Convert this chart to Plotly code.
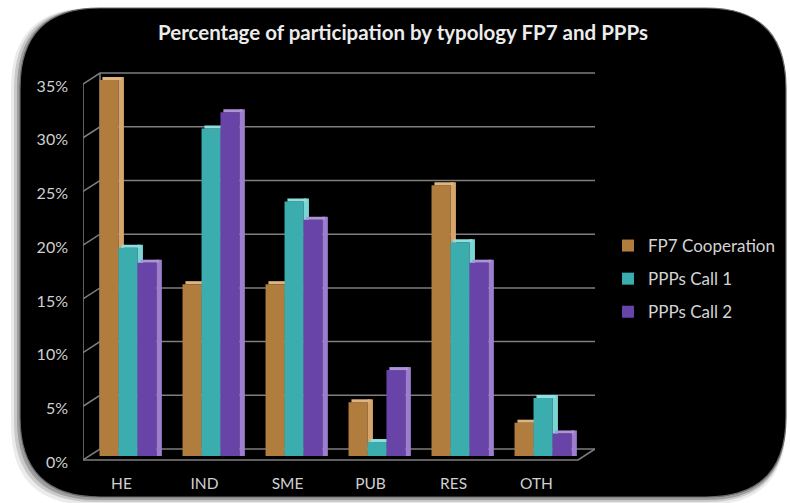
import plotly.graph_objects as go

W, H = 790, 503

categories = ["HE", "IND", "SME", "PUB", "RES", "OTH"]
series_names = ["FP7 Cooperation", "PPPs Call 1", "PPPs Call 2"]
fp7_cooperation = [35.0, 16.0, 16.0, 5.0, 25.2, 3.1]
ppps_call_1 = [19.4, 30.5, 23.7, 1.3, 19.9, 5.4]
ppps_call_2 = [18.0, 32.0, 22.0, 8.0, 18.0, 2.1]
y_ticks = [0, 5, 10, 15, 20, 25, 30, 35]
y_tick_labels = ["0%", "5%", "10%", "15%", "20%", "25%", "30%", "35%"]

front_colors = ["#B07D3F", "#3BADAE", "#6944A8"]
side_colors = ["#D6A56B", "#7AD6D6", "#9C7DCF"]
top_colors = ["#E0B47E", "#8EE0E0", "#AE92DA"]

FONT = "Lato"

def px_x(p):
    return p / W

def px_y(p):
    return 1 - p / H

def rounded_path(x0, y0, x1, y1, r):
    pts = [
        ("M", (x0 + r, y0)), ("L", (x1 - r, y0)),
        ("Q", (x1, y0), (x1, y0 + r)), ("L", (x1, y1 - r)),
        ("Q", (x1, y1), (x1 - r, y1)), ("L", (x0 + r, y1)),
        ("Q", (x0, y1), (x0, y1 - r)), ("L", (x0, y0 + r)),
        ("Q", (x0, y0), (x0 + r, y0)),
    ]
    s = ""
    for item in pts:
        cmd = item[0]
        coords = " ".join(f"{px_x(a):.5f},{px_y(b):.5f}" for a, b in item[1:])
        s += f"{cmd} {coords} "
    return s + "Z"

fig = go.Figure()

# ---- 3D-style walls: back gridlines, left wall diagonals and floor, built from the tick values
depth_dx = 17 / 512      # wall depth, as a fraction of the wall axis width
depth_dy = 1.02          # wall depth, in y units
ymax = y_ticks[-1]
wx, wy = [], []
for v in y_ticks:
    wx += [0, depth_dx, 1, None]
    wy += [v - depth_dy, v, v, None]
wx += [0, 0, None, depth_dx, depth_dx, None, 0, 1 - depth_dx, 1, None]
wy += [-depth_dy, ymax - depth_dy, None, 0, ymax, None, -depth_dy, -depth_dy, 0, None]
fig.add_trace(go.Scatter(x=wx, y=wy, mode="lines", line=dict(color="#7e7e7e", width=1.5),
                         hoverinfo="skip", showlegend=False, xaxis="x", yaxis="y"))

# ---- bars (front face, side face, top face)
front_w = 0.229
offsets = [-0.337, -0.108, 0.120]
side_w = 0.065
top_h = 0.28
data = [fp7_cooperation, ppps_call_1, ppps_call_2]

for i, (name, vals) in enumerate(zip(series_names, data)):
    fig.add_trace(go.Bar(x=categories, y=vals, name=name, marker_color=front_colors[i],
                         marker_line_width=0, offset=offsets[i], width=front_w,
                         legendgroup=name, xaxis="x2", yaxis="y2"))
    fig.add_trace(go.Bar(x=categories, y=[v + top_h for v in vals], marker_color=side_colors[i],
                         marker_line_width=0, offset=offsets[i] + front_w, width=side_w,
                         showlegend=False, hoverinfo="skip", xaxis="x2", yaxis="y2"))
    fig.add_trace(go.Bar(x=categories, y=[top_h] * len(vals), base=vals, marker_color=top_colors[i],
                         marker_line_width=0, offset=offsets[i] + 0.035, width=front_w,
                         showlegend=False, hoverinfo="skip", xaxis="x2", yaxis="y2"))

# ---- rounded black panel with soft shadow
shapes = []
for dx, dy, op in [(-9, 8, 0.08), (-6, 5, 0.14), (-3, 3, 0.22)]:
    shapes.append(dict(type="path", xref="paper", yref="paper", layer="below",
                       path=rounded_path(20 + dx, 8, 786, 497 + dy, 80),
                       fillcolor=f"rgba(0,0,0,{op})", line=dict(width=0)))
shapes.append(dict(type="path", xref="paper", yref="paper", layer="below",
                   path=rounded_path(20, 8, 786, 497, 80),
                   fillcolor="#000000", line=dict(color="#6a6a6a", width=1.2)))

PXU = 10.74  # pixels per percentage point

fig.update_layout(
    width=W, height=H, autosize=False,
    margin=dict(l=0, r=0, t=0, b=0, pad=0, autoexpand=False),
    paper_bgcolor="white", plot_bgcolor="rgba(0,0,0,0)",
    barmode="overlay",
    font=dict(family=FONT, color="#d0d0d0", size=15),
    title=dict(text="<b>Percentage of participation by typology FP7 and PPPs</b>",
               x=px_x(403), xanchor="center", y=px_y(33), yanchor="middle",
               font=dict(family=FONT, size=20.5, color="#ececec")),
    xaxis=dict(domain=[px_x(83), px_x(595)], range=[0, 1], visible=False, fixedrange=True),
    yaxis=dict(domain=[px_y(449 + 1.3 * PXU), px_y(449 - 35.2 * PXU)], range=[-1.3, 35.2],
               visible=False, fixedrange=True),
    xaxis2=dict(domain=[px_x(86), px_x(584)], anchor="y2", type="category",
                categoryorder="array", categoryarray=categories, range=[-0.5, 5.5],
                showgrid=False, showline=False, zeroline=False,
                ticks="", ticklabelshift=-6, ticklabelstandoff=16,
                tickfont=dict(family=FONT, size=15.5, color="#d0d0d0")),
    yaxis2=dict(domain=[px_y(456), px_y(456 - 35.4 * PXU)], anchor="x2", range=[0, 35.4],
                tickvals=y_ticks, ticktext=y_tick_labels, showgrid=False, zeroline=False,
                showline=False, ticks="", ticklabelshift=6, ticklabelstandoff=17,
                tickfont=dict(family=FONT, size=16, color="#d0d0d0")),
    legend=dict(x=px_x(608), y=px_y(228), xanchor="left", yanchor="top",
                bgcolor="rgba(0,0,0,0)", font=dict(family=FONT, size=17, color="#d4d4d4"),
                itemwidth=30, traceorder="grouped", tracegroupgap=8),
    shapes=shapes,
)

fig.write_html("out.html", config={"displayModeBar": False},
               post_script="document.body.style.margin='0px';document.body.style.overflow='hidden';")
